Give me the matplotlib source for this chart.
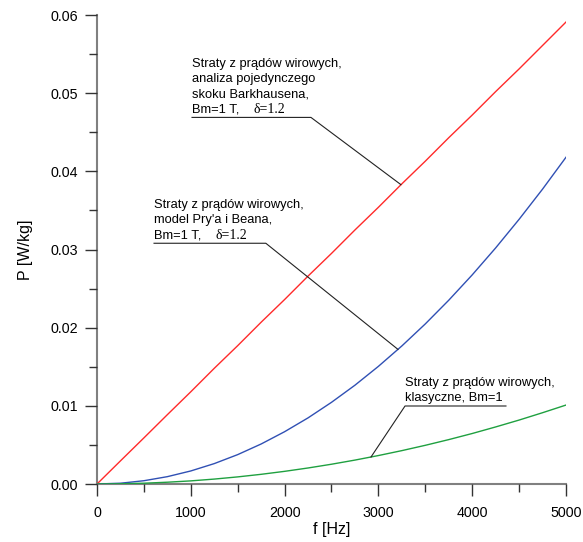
import matplotlib
matplotlib.use("Agg")
import matplotlib.pyplot as plt
from matplotlib.ticker import MultipleLocator, FormatStrFormatter

plt.rcParams['font.family'] = ['Liberation Sans', 'DejaVu Sans']

# values
f_hz = [0, 250, 500, 750, 1000, 1250, 1500, 1750, 2000, 2250, 2500, 2750, 3000,
        3250, 3500, 3750, 4000, 4250, 4500, 4750, 5000]
p_barkhausen = [0.0, 0.00296, 0.0059, 0.00887, 0.0118, 0.0148, 0.0177, 0.0207, 0.0236,
                0.0266, 0.0295, 0.0325, 0.0354, 0.0384, 0.0413, 0.0443, 0.0472, 0.0502,
                0.0531, 0.0561, 0.0591]
p_pry_bean = [0.0, 0.0001, 0.00042, 0.00094, 0.00167, 0.00261, 0.00376, 0.00512,
              0.00669, 0.00846, 0.01045, 0.01264, 0.01505, 0.01766, 0.02048, 0.02351,
              0.02675, 0.0302, 0.03386, 0.03772, 0.0418]
p_klasyczne = [0.0, 0.00003, 0.0001, 0.00023, 0.0004, 0.00063, 0.00091, 0.00124,
               0.00162, 0.00205, 0.00253, 0.00306, 0.00364, 0.00427, 0.00495, 0.00568,
               0.00646, 0.0073, 0.00818, 0.00912, 0.0101]

fig = plt.figure(figsize=(5.83, 5.42), dpi=100)
ax = fig.add_axes([0.1664, 0.107, 0.8044, 0.8653])

ax.plot(f_hz, p_barkhausen, color='#ff2a2a', lw=1.0)
ax.plot(f_hz, p_pry_bean, color='#3050b4', lw=1.0)
ax.plot(f_hz, p_klasyczne, color='#1fa040', lw=1.0)

ax.set_xlim(0, 5000)
ax.set_ylim(0, 0.06)
ax.xaxis.set_major_locator(MultipleLocator(1000))
ax.xaxis.set_minor_locator(MultipleLocator(500))
ax.yaxis.set_major_locator(MultipleLocator(0.01))
ax.yaxis.set_minor_locator(MultipleLocator(0.005))
ax.yaxis.set_major_formatter(FormatStrFormatter('%.2f'))

for s in ['top', 'right']:
    ax.spines[s].set_visible(False)
for s in ['left', 'bottom']:
    ax.spines[s].set_color('#808080')
    ax.spines[s].set_linewidth(1.5)
    ax.spines[s].set_zorder(0)

ax.tick_params(which='major', direction='out', length=8.5, width=1, color='#333333',
               labelsize=10.3, pad=5)
ax.tick_params(which='minor', direction='out', length=5.5, width=1, color='#333333')
ax.tick_params(axis='x', which='major', pad=7)

ax.set_xlabel('f [Hz]', fontsize=11.5, labelpad=2)
ax.set_ylabel('P [W/kg]', fontsize=11.5, labelpad=13)

fs = 9.3
step = 11.0  # line spacing in points


def label(lines, x0, x1, y_line, target, start):
    # underline + leader to the curve
    sx = x0 if start == 'left' else x1
    ax.plot([x1 if start == 'left' else x0, sx, target[0]],
            [y_line, y_line, target[1]], color='#222222', lw=0.8)
    n = len(lines)
    for k, line in enumerate(lines):
        ax.annotate(line, xy=(x0, y_line), xytext=(0, 3.3 + (n - 1 - k) * step),
                    textcoords='offset points', ha='left', va='baseline', fontsize=fs)


label(['Straty z prądów wirowych,', 'analiza pojedynczego', 'skoku Barkhausena,',
       'Bm=1 T,'], 1013, 2281, 0.0469, (3240, 0.0383), 'right')
label(['Straty z prądów wirowych,', "model Pry'a i Beana,", 'Bm=1 T,'],
      608, 1800, 0.0308, (3209, 0.01722), 'right')
label(['Straty z prądów wirowych,', 'klasyczne, Bm=1'],
      3284, 4360, 0.00998, (2921, 0.00345), 'left')

for x0, y0 in [(1013, 0.0469), (608, 0.0308)]:
    ax.annotate('δ=1.2', xy=(x0, y0), xytext=(44, 3.3), textcoords='offset points',
                ha='left', va='baseline', fontsize=10, family='Liberation Serif')

fig.savefig('out.png', dpi=100)
